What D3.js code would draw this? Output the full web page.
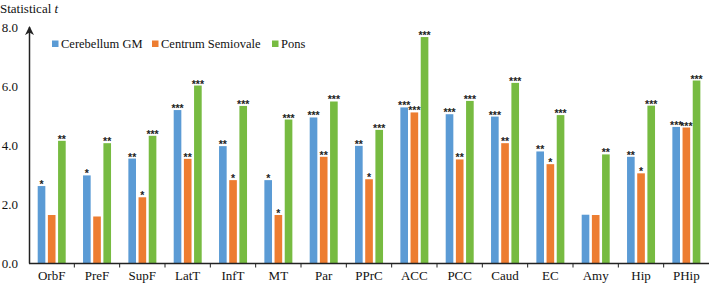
<!DOCTYPE html>
<html>
<head>
<meta charset="utf-8">
<script src="https://cdn.jsdelivr.net/npm/d3@7"></script>
<style>
  body { margin: 0; background: #fff; }
</style>
</head>
<body>
<div id="chart"></div>
<script>
// regions on the x axis
const regions = ['OrbF', 'PreF', 'SupF', 'LatT', 'InfT', 'MT', 'Par', 'PPrC', 'ACC', 'PCC', 'Caud', 'EC', 'Amy', 'Hip', 'PHip'];
const seriesNames = ['Cerebellum GM', 'Centrum Semiovale', 'Pons'];

// statistical t
const cerebellum = [2.62, 2.98, 3.55, 5.19, 3.97, 2.82, 4.94, 3.98, 5.28, 5.05, 4.97, 3.79, 1.65, 3.61, 4.62];
const centrum = [1.64, 1.59, 2.24, 3.54, 2.82, 1.64, 3.61, 2.85, 5.11, 3.52, 4.07, 3.36, 1.64, 3.05, 4.60];
const pons = [4.15, 4.07, 4.32, 6.02, 5.33, 4.87, 5.48, 4.52, 7.66, 5.50, 6.11, 5.02, 3.69, 5.34, 6.19];

// significance marks
const starsCerebellum = ['*', '*', '**', '***', '**', '*', '***', '**', '***', '***', '***', '**', '', '**', '***'];
const starsCentrum = ['', '', '*', '**', '*', '*', '**', '*', '***', '**', '**', '*', '', '*', '***'];
const starsPons = ['**', '**', '***', '***', '***', '***', '***', '***', '***', '***', '***', '***', '**', '***', '***'];

const yTicks = [0, 2, 4, 6, 8];

const colors = ['#5b9bd5', '#ed7d31', '#77bb41'];

const width = 709, height = 285;
const serif = 'Liberation Serif';

const values = [cerebellum, centrum, pons];
const stars = [starsCerebellum, starsCentrum, starsPons];

const rows = [];
regions.forEach((r, i) => {
  seriesNames.forEach((s, j) => {
    rows.push({ region: r, series: s, value: values[j][i], star: stars[j][i], color: colors[j] });
  });
});

const x = d3.scaleBand()
  .domain(regions)
  .range([29, 709])
  .paddingInner(0);

const xInner = d3.scaleBand()
  .domain(seriesNames)
  .range([8.7, 36.7])
  .paddingInner(0.25);

const y = d3.scaleLinear()
  .domain([0, 8])
  .range([263.5, 27]);

const svg = d3.select('#chart').append('svg')
  .attr('width', width)
  .attr('height', height);

// bars
svg.append('g')
  .selectAll('rect')
  .data(rows)
  .enter().append('rect')
  .attr('x', d => x(d.region) + xInner(d.series))
  .attr('y', d => y(d.value))
  .attr('width', xInner.bandwidth())
  .attr('height', d => y(0) - y(d.value))
  .attr('fill', d => d.color);

// stars
svg.append('g')
  .selectAll('text')
  .data(rows.filter(d => d.star))
  .enter().append('text')
  .attr('x', d => x(d.region) + xInner(d.series) + xInner.bandwidth() / 2)
  .attr('y', d => y(d.value) + 2)
  .attr('text-anchor', 'middle')
  .attr('font-family', 'Liberation Sans')
  .attr('font-size', 10.5)
  .attr('font-weight', 'bold')
  .attr('fill', '#222')
  .text(d => d.star);

// x axis line and tick marks between groups
svg.append('line')
  .attr('x1', 29).attr('x2', 709)
  .attr('y1', y(0)).attr('y2', y(0))
  .attr('stroke', '#222').attr('stroke-width', 1.5);

svg.append('g')
  .selectAll('line')
  .data(regions.slice(1))
  .enter().append('line')
  .attr('x1', d => x(d)).attr('x2', d => x(d))
  .attr('y1', y(0)).attr('y2', y(0) + 4)
  .attr('stroke', '#222').attr('stroke-width', 1);

svg.append('g')
  .selectAll('text')
  .data(regions)
  .enter().append('text')
  .attr('x', d => x(d) + x.bandwidth() / 2)
  .attr('y', 280)
  .attr('text-anchor', 'middle')
  .attr('font-family', serif)
  .attr('font-size', 13)
  .attr('fill', '#111')
  .text(d => d);

// y axis with arrow
svg.append('defs').append('marker')
  .attr('id', 'arrow')
  .attr('viewBox', '0 0 10 10')
  .attr('refX', 9).attr('refY', 5)
  .attr('markerWidth', 6).attr('markerHeight', 6)
  .attr('orient', 'auto')
  .append('path')
  .attr('d', 'M0,0 L10,5 L0,10 L3,5 Z')
  .attr('fill', '#222');

svg.append('line')
  .attr('x1', 29.5).attr('x2', 29.5)
  .attr('y1', y(0)).attr('y2', y(8))
  .attr('stroke', '#222').attr('stroke-width', 1.5)
  .attr('marker-end', 'url(#arrow)');

svg.append('g')
  .selectAll('text')
  .data(yTicks)
  .enter().append('text')
  .attr('x', 18)
  .attr('y', d => y(d))
  .attr('dy', '0.35em')
  .attr('text-anchor', 'end')
  .attr('font-family', serif)
  .attr('font-size', 13)
  .attr('fill', '#111')
  .text(d => d.toFixed(1));

// title
const title = svg.append('text')
  .attr('x', 0)
  .attr('y', 13)
  .attr('font-family', serif)
  .attr('font-size', 13)
  .attr('fill', '#111');
title.append('tspan').text('Statistical ');
title.append('tspan').attr('font-style', 'italic').text('t');

// legend
const legendX = [52, 152, 272];
const legend = svg.append('g')
  .selectAll('g')
  .data(seriesNames)
  .enter().append('g')
  .attr('transform', (d, i) => `translate(${legendX[i]}, 44)`);

legend.append('rect')
  .attr('x', 0).attr('y', -3.5)
  .attr('width', 6.5).attr('height', 6.5)
  .attr('fill', (d, i) => colors[i]);

legend.append('text')
  .attr('x', 9)
  .attr('dy', '0.35em')
  .attr('font-family', serif)
  .attr('font-size', 12.5)
  .attr('fill', '#111')
  .text(d => d);
</script>
</body>
</html>
